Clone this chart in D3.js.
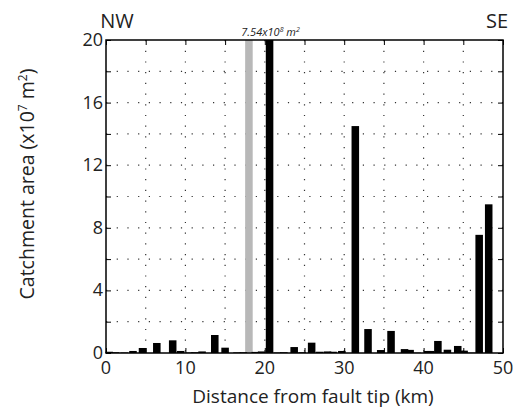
<!DOCTYPE html>
<html>
<head>
<meta charset="utf-8">
<script src="https://cdn.jsdelivr.net/npm/d3@7"></script>
<style>
  body { margin: 0; background: #fff; }
  text { font-family: "Open Sans", sans-serif; fill: #222; }
</style>
</head>
<body>
<div id="chart"></div>
<script>
const width = 515;
const height = 414;
const margin = { top: 40, right: 12, bottom: 61, left: 106 };

// catchment outlets: distance along fault (km) and area (x10^7 m^2)
const distances = [0.4, 1.2, 2.3, 3.4, 4.6, 6.4, 8.4, 9.4, 10.5, 11.2, 12.1, 13.7, 15.0, 16.5, 17.3,
    18.8, 19.6, 20.6, 21.6, 22.4, 23.7, 24.7, 25.9, 26.9, 27.9, 28.6, 29.7, 31.4, 33.0, 34.6,
    35.9, 37.6, 38.3, 39.2, 40.5, 40.9, 41.8, 43.0, 44.3, 45.1, 46.0, 47.0, 48.2];
const areas = [0.08, 0.05, 0.03, 0.13, 0.32, 0.64, 0.81, 0.13, 0.03, 0.05, 0.1, 1.15, 0.34, 0.04, 0.05,
    0.07, 0.1, 75.4, 0.03, 0.05, 0.38, 0.05, 0.66, 0.08, 0.1, 0.08, 0.13, 14.5, 1.53, 0.19,
    1.41, 0.25, 0.2, 0.02, 0.13, 0.13, 0.77, 0.21, 0.45, 0.15, 0.02, 7.55, 9.5];
const highlight = 18;          // grey band position (km)
const barWidth = 0.95;         // km

const xTicks = [0, 10, 20, 30, 40, 50];
const yTicks = [0, 4, 8, 12, 16, 20];
const yMax = 20;

const innerW = width - margin.left - margin.right;
const innerH = height - margin.top - margin.bottom;

const svg = d3.select("#chart")
    .append("svg")
    .attr("width", width)
    .attr("height", height);

const g = svg.append("g")
    .attr("transform", `translate(${margin.left},${margin.top})`);

const x = d3.scaleLinear().domain([0, 50]).range([0, innerW]);
const y = d3.scaleLinear().domain([0, yMax]).range([innerH, 0]);

// dotted grid
g.selectAll(".vgrid")
    .data(d3.range(5, 50, 5))
    .join("line")
    .attr("x1", d => x(d)).attr("x2", d => x(d))
    .attr("y1", 0).attr("y2", innerH)
    .attr("stroke", "#333")
    .attr("stroke-width", 1.2)
    .attr("stroke-dasharray", "1.2,9.5");

g.selectAll(".hgrid")
    .data(d3.range(2, 20, 2))
    .join("line")
    .attr("y1", d => y(d)).attr("y2", d => y(d))
    .attr("x1", 0).attr("x2", innerW)
    .attr("stroke", "#333")
    .attr("stroke-width", 1.2)
    .attr("stroke-dasharray", "1.2,9.5");

// grey band
g.append("rect")
    .attr("x", x(highlight - barWidth / 2))
    .attr("y", y(yMax))
    .attr("width", x(barWidth) - x(0))
    .attr("height", innerH)
    .attr("fill", "#b8b8b8");

// bars
const bars = distances.map((d, i) => ({ d: d, a: areas[i] }));
g.selectAll(".bar")
    .data(bars)
    .join("rect")
    .attr("class", "bar")
    .attr("x", b => x(b.d - barWidth / 2))
    .attr("y", b => y(Math.min(b.a, yMax)))
    .attr("width", x(barWidth) - x(0))
    .attr("height", b => innerH - y(Math.min(b.a, yMax)))
    .attr("fill", "#000");

// axes: ticks inward on all four sides
const tickLen = 5;
g.append("g")
    .attr("transform", `translate(0,${innerH})`)
    .call(d3.axisBottom(x).tickValues(d3.range(0, 51, 5)).tickSizeInner(-tickLen).tickSizeOuter(0).tickFormat(""));
g.append("g")
    .call(d3.axisTop(x).tickValues(d3.range(0, 51, 5)).tickSizeInner(-tickLen).tickSizeOuter(0).tickFormat(""));
g.append("g")
    .call(d3.axisLeft(y).tickValues(d3.range(0, 21, 2)).tickSizeInner(-tickLen).tickSizeOuter(0).tickFormat(""));
g.append("g")
    .attr("transform", `translate(${innerW},0)`)
    .call(d3.axisRight(y).tickValues(d3.range(0, 21, 2)).tickSizeInner(-tickLen).tickSizeOuter(0).tickFormat(""));
g.selectAll(".domain").remove();
g.selectAll(".tick line").attr("stroke", "#000").attr("stroke-width", 1);

g.append("rect")
    .attr("width", innerW).attr("height", innerH)
    .attr("fill", "none")
    .attr("stroke", "#000")
    .attr("stroke-width", 1.5);

// tick labels
g.selectAll(".xlab")
    .data(xTicks)
    .join("text")
    .attr("x", d => x(d))
    .attr("y", innerH + 21)
    .attr("text-anchor", "middle")
    .attr("font-size", 18)
    .text(d => d);

g.selectAll(".ylab")
    .data(yTicks)
    .join("text")
    .attr("x", -3)
    .attr("y", d => y(d) + 6)
    .attr("text-anchor", "end")
    .attr("font-size", 18)
    .text(d => d);

// axis titles
svg.append("text")
    .attr("x", 313)
    .attr("y", 403)
    .attr("text-anchor", "middle")
    .attr("font-size", 19)
    .text("Distance from fault tip (km)");

const yt = svg.append("text")
    .attr("transform", "translate(34,184) rotate(-90)")
    .attr("text-anchor", "middle")
    .attr("font-size", 19.5);
yt.append("tspan").text("Catchment area (x10");
yt.append("tspan").attr("dy", -7).attr("font-size", 12).text("7");
yt.append("tspan").attr("dy", 7).text(" m");
yt.append("tspan").attr("dy", -7).attr("font-size", 12).text("2");
yt.append("tspan").attr("dy", 7).text(")");

// tall bar annotation
const big = bars.find(b => b.a > yMax);
const ann = g.append("text")
    .attr("x", x(big.d) + 1)
    .attr("y", -4)
    .attr("text-anchor", "middle")
    .attr("font-size", 11)
    .attr("font-style", "italic");
ann.append("tspan").text("7.54x10");
ann.append("tspan").attr("dy", -4).attr("font-size", 7).text("8");
ann.append("tspan").attr("dy", 4).text(" m");
ann.append("tspan").attr("dy", -4).attr("font-size", 7).text("2");

// direction labels
svg.append("text").attr("x", 117).attr("y", 28).attr("text-anchor", "middle")
    .attr("font-size", 20).text("NW");
svg.append("text").attr("x", 497).attr("y", 28).attr("text-anchor", "middle")
    .attr("font-size", 20).text("SE");
</script>
</body>
</html>
